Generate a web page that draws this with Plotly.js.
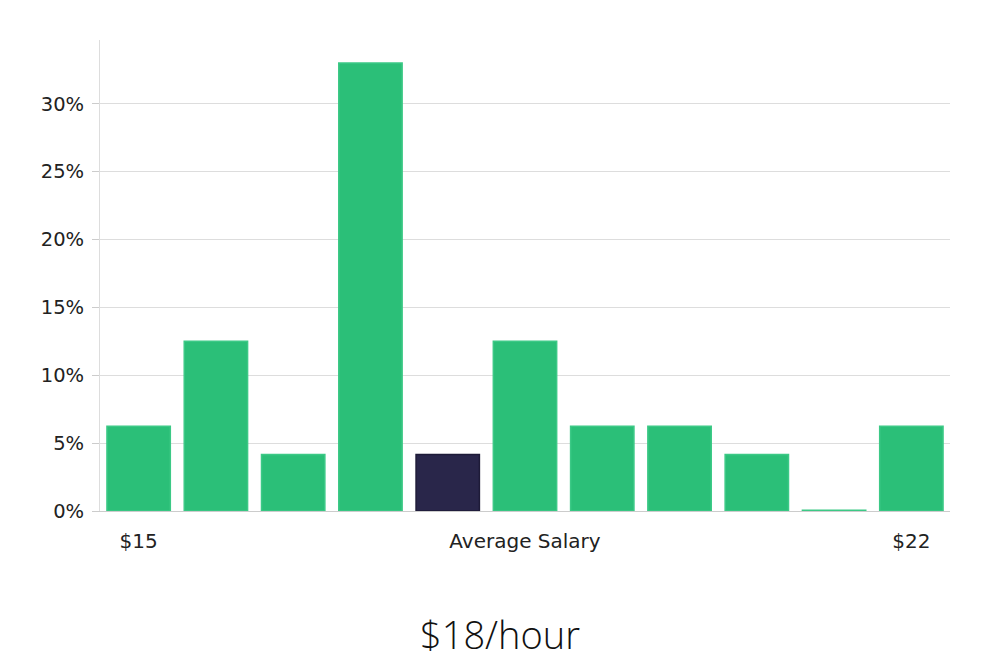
<!DOCTYPE html>
<html>
<head>
<meta charset="utf-8">
<script src="https://cdn.plot.ly/plotly-3.0.1.min.js"></script>
<style>html,body{margin:0;padding:0;background:#fff;}#chart{width:1000px;height:660px;}</style>
</head>
<body>
<div id="chart"></div>
<script>
const categories = [0, 1, 2, 3, 4, 5, 6, 7, 8, 9, 10];
const shares = [6.25, 12.5, 4.17, 33.0, 4.17, 12.5, 6.25, 6.25, 4.17, 0.05, 6.25];
const highlightIndex = 4;
const tickPositions = [0, 5, 10];
const tickLabels = ["$15", "Average Salary", "$22"];
const yTicks = [0, 5, 10, 15, 20, 25, 30];
const yTickLabels = ["0%", "5%", "10%", "15%", "20%", "25%", "30%"];
const titleText = "$18/hour";

const green = "#2bbf78", greenLine = "#3cc986";
const dark = "#29264a", darkLine = "#1e1b38";

const trace = {
  type: "bar",
  x: categories,
  y: shares,
  marker: {
    color: categories.map((c, i) => i === highlightIndex ? dark : green),
    line: { color: categories.map((c, i) => i === highlightIndex ? darkLine : greenLine), width: 1.5 }
  },
  hoverinfo: "none"
};

const layout = {
  width: 1000, height: 660,
  margin: { l: 100, r: 50, t: 40, b: 149 },
  paper_bgcolor: "#ffffff", plot_bgcolor: "#ffffff",
  font: { family: "DejaVu Sans, sans-serif", size: 19, color: "#222" },
  bargap: 0.18,
  showlegend: false,
  title: {
    text: titleText,
    font: { family: "Open Sans, sans-serif", size: 38, color: "#111", weight: 300 },
    x: 0.5, xref: "container", xanchor: "center",
    y: 0.037, yref: "container", yanchor: "middle"
  },
  xaxis: {
    range: [-0.5, 10.5],
    tickmode: "array", tickvals: tickPositions, ticktext: tickLabels,
    ticks: "outside", ticklen: 0, ticklabelstandoff: 12,
    showgrid: false, zeroline: false,
    showline: true, linecolor: "#cccccc", linewidth: 1,
    tickfont: { size: 20, color: "#222" },
    fixedrange: true
  },
  yaxis: {
    range: [0, 34.7],
    tickmode: "array", tickvals: yTicks, ticktext: yTickLabels,
    ticks: "outside", ticklen: 7, tickcolor: "#cccccc", tickwidth: 1,
    ticklabelstandoff: 4,
    showgrid: true, gridcolor: "#dddddd", gridwidth: 1,
    zeroline: false,
    showline: true, linecolor: "#dddddd", linewidth: 1,
    tickfont: { size: 19.5, color: "#222" },
    fixedrange: true
  }
};

Plotly.newPlot("chart", [trace], layout, { displayModeBar: false, staticPlot: true });
</script>
</body>
</html>
